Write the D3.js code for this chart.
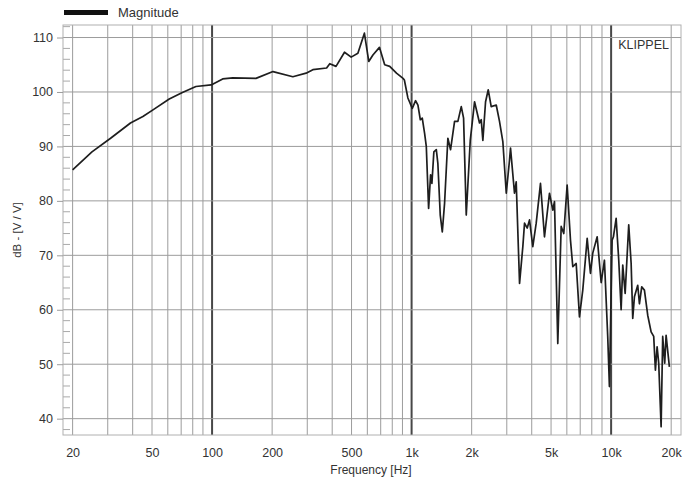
<!DOCTYPE html>
<html>
<head>
<meta charset="utf-8">
<script src="https://cdn.jsdelivr.net/npm/d3@7"></script>
<style>
  body { margin: 0; background: #fff; }
  svg { display: block; font-family: "Liberation Sans", Arial, sans-serif; }
</style>
</head>
<body>
<div id="chart"></div>
<script>
// Magnitude response
const freqs = [20, 25, 31, 39, 45, 51, 61, 71, 83, 99, 113, 127, 166, 202, 254, 296, 320, 375, 389, 418,
  461, 498, 538, 580, 610, 640, 690, 733, 777, 840, 906, 920, 958, 1008, 1047, 1076, 1106, 1131, 1162, 1185,
  1217, 1245, 1264, 1293, 1330, 1354, 1392, 1425, 1463, 1520, 1568, 1642, 1706, 1774, 1822, 1879, 1968, 2068,
  2190, 2234, 2276, 2348, 2422, 2506, 2656, 2758, 2866, 2982, 3096, 3132, 3279, 3344, 3476, 3610, 3681, 3798,
  3900, 4050, 4212, 4426, 4634, 4910, 5102, 5202, 5404, 5620, 5790, 6020, 6256, 6426, 6682, 6940, 7210, 7586,
  7878, 8090, 8512, 8914, 9258, 9616, 9806, 10116, 10270, 10596, 10920, 11224, 11438, 11758, 12254, 12600,
  12834, 13088, 13596, 13864, 14236, 14686, 15256, 15866, 16350, 16672, 17002, 17320, 17806, 18136, 18558,
  18862, 19590];
const magnitude = [85.7, 89.0, 91.5, 94.3, 95.5, 96.8, 98.7, 99.9, 101.0, 101.3, 102.4, 102.6, 102.5, 103.75, 102.8, 103.45, 104.1, 104.4, 105.2, 104.7,
  107.3, 106.4, 107.1, 110.8, 105.6, 106.8, 108.2, 105.0, 104.7, 103.45, 102.5, 102.2, 98.9, 97.0, 98.4, 97.6, 94.9, 95.2, 92.4, 90.0,
  78.6, 84.8, 83.2, 89.0, 89.4, 86.9, 77.4, 74.3, 79.55, 91.5, 89.4, 94.6, 94.6, 97.3, 95.2, 77.4, 91.1, 98.2,
  94.3, 94.9, 91.1, 98.2, 100.4, 97.3, 97.6, 94.6, 90.9, 81.4, 87.5, 89.7, 81.4, 83.5, 64.85, 71.6, 75.9, 75.0,
  76.5, 71.6, 75.9, 83.2, 73.4, 81.4, 78.3, 79.85, 53.8, 75.3, 74.0, 82.9, 72.8, 67.9, 68.5, 58.7, 63.6, 73.1,
  66.7, 70.4, 73.4, 65.0, 69.1, 55.1, 45.9, 72.8, 73.4, 76.8, 69.1, 60.0, 68.2, 63.0, 75.6, 68.5,
  58.4, 62.4, 64.5, 61.1, 64.2, 63.6, 59.0, 55.95, 55.1, 48.9, 53.2, 50.2, 38.5, 55.1, 50.2,
  55.3, 49.5];

const gridFreqs = [20, 30, 40, 50, 60, 70, 80, 90, 100, 200, 300, 400, 500, 600, 700, 800, 900,
  1000, 2000, 3000, 4000, 5000, 6000, 7000, 8000, 9000, 10000, 20000];
const decadeFreqs = [100, 1000, 10000];
const xTickValues = [20, 50, 100, 200, 500, 1000, 2000, 5000, 10000, 20000];
const xTickLabels = ["20", "50", "100", "200", "500", "1k", "2k", "5k", "10k", "20k"];
const yTickValues = [40, 50, 60, 70, 80, 90, 100, 110];
const yMinorValues = [38, 42, 44, 46, 48, 52, 54, 56, 58, 62, 64, 66, 68, 72, 74, 76, 78, 82, 84, 86, 88,
  92, 94, 96, 98, 102, 104, 106, 108, 112];

const width = 696, height = 483;
const plotLeft = 63, plotRight = 681, plotTop = 25, plotBottom = 435;

const svg = d3.select("#chart").append("svg")
    .attr("width", width)
    .attr("height", height);

const x = d3.scaleLog().domain([17.9, 22400]).range([plotLeft, plotRight]);
const y = d3.scaleLinear().domain([37, 112.3]).range([plotBottom, plotTop]);

// grid
svg.append("g").selectAll("line")
    .data(gridFreqs)
    .join("line")
    .attr("x1", d => x(d)).attr("x2", d => x(d))
    .attr("y1", plotTop).attr("y2", plotBottom)
    .attr("stroke", d => decadeFreqs.includes(d) ? "#474747" : "#9c9c9c")
    .attr("stroke-width", d => decadeFreqs.includes(d) ? 2 : 1);

svg.append("g").selectAll("line")
    .data(yTickValues)
    .join("line")
    .attr("x1", plotLeft).attr("x2", plotRight)
    .attr("y1", d => y(d)).attr("y2", d => y(d))
    .attr("stroke", "#9c9c9c");

// minor ticks inside the left border
svg.append("g").selectAll("line")
    .data(yMinorValues)
    .join("line")
    .attr("x1", plotLeft).attr("x2", plotLeft + 7)
    .attr("y1", d => y(d)).attr("y2", d => y(d))
    .attr("stroke", "#a9a9a9");

// border
svg.append("rect")
    .attr("x", plotLeft).attr("y", plotTop)
    .attr("width", plotRight - plotLeft).attr("height", plotBottom - plotTop)
    .attr("fill", "none")
    .attr("stroke", "#b0b0b0");

// axes
const xAxis = svg.append("g")
    .attr("transform", "translate(0," + plotBottom + ")")
    .call(d3.axisBottom(x).tickValues(xTickValues)
        .tickFormat((d, i) => xTickLabels[i]).tickSize(0).tickPadding(13));
xAxis.select(".domain").remove();
xAxis.selectAll("text").attr("font-size", 12.5).attr("fill", "#333");

const yAxis = svg.append("g")
    .attr("transform", "translate(" + plotLeft + ",0)")
    .call(d3.axisLeft(y).tickValues(yTickValues).tickSize(6).tickPadding(4));
yAxis.select(".domain").remove();
yAxis.selectAll(".tick line").attr("stroke", "#9c9c9c");
yAxis.selectAll("text").attr("font-size", 12.5).attr("fill", "#333");

// the curve
const line = d3.line()
    .x((d, i) => x(freqs[i]))
    .y(d => y(d));

svg.append("path")
    .datum(magnitude)
    .attr("d", line)
    .attr("fill", "none")
    .attr("stroke", "#1e1e1e")
    .attr("stroke-width", 1.7)
    .attr("stroke-linejoin", "round");

// labels
svg.append("text")
    .attr("x", 371)
    .attr("y", 474)
    .attr("text-anchor", "middle")
    .attr("font-size", 12)
    .attr("fill", "#333")
    .text("Frequency [Hz]");

svg.append("text")
    .attr("transform", "translate(21,230) rotate(-90)")
    .attr("text-anchor", "middle")
    .attr("font-size", 11.5)
    .attr("fill", "#333")
    .text("dB - [V / V]");

svg.append("text")
    .attr("x", 669)
    .attr("y", 49)
    .attr("text-anchor", "end")
    .attr("font-size", 12.5)
    .attr("fill", "#333")
    .text("KLIPPEL");

// legend
svg.append("rect")
    .attr("x", 64).attr("y", 10)
    .attr("width", 44).attr("height", 5)
    .attr("fill", "#111");

svg.append("text")
    .attr("x", 118)
    .attr("y", 17)
    .attr("font-size", 13)
    .attr("fill", "#333")
    .text("Magnitude");
</script>
</body>
</html>
